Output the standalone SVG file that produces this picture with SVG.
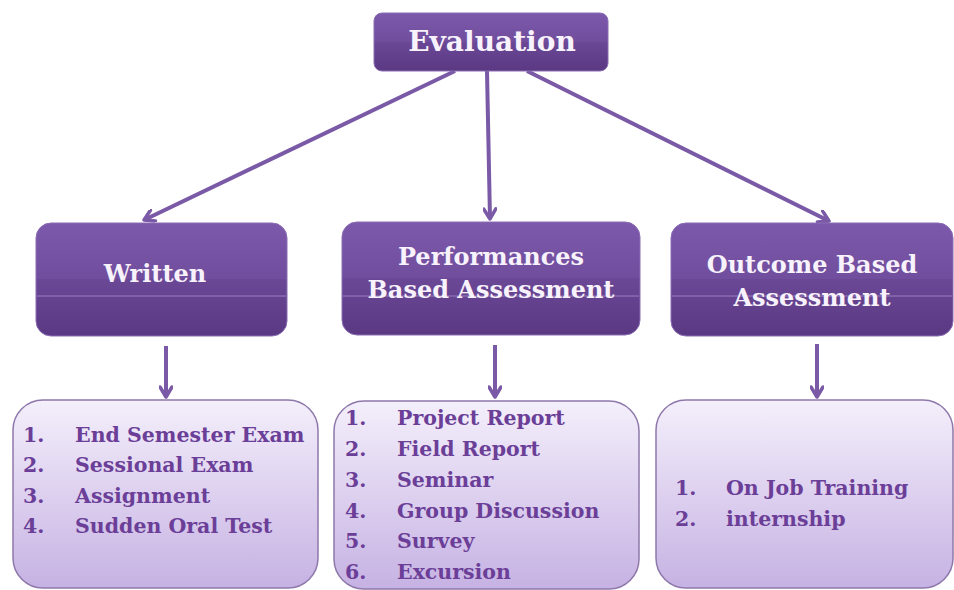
<svg xmlns="http://www.w3.org/2000/svg" width="954" height="590" viewBox="0 0 954 590">
<defs>
<linearGradient id="gTop" x1="0" y1="0" x2="0" y2="1">
<stop offset="0" stop-color="#7d59ab"/>
<stop offset="0.5" stop-color="#704d9d"/>
<stop offset="0.5" stop-color="#6b4896"/>
<stop offset="1" stop-color="#5a3882"/>
</linearGradient>
<linearGradient id="gList" x1="0" y1="0" x2="0" y2="1">
<stop offset="0" stop-color="#f4effb"/>
<stop offset="1" stop-color="#c6b2e3"/>
</linearGradient>
<marker id="arr" viewBox="0 0 14 14" refX="12" refY="7" markerWidth="14" markerHeight="14" markerUnits="userSpaceOnUse" orient="auto">
<path d="M2,1 L12,7 L2,13" fill="none" stroke="#7a59a6" stroke-width="3.5" stroke-linecap="round" stroke-linejoin="round"/>
</marker>
</defs>
<style>
.hdr{fill:url(#gTop);stroke:#8a6cb4;stroke-width:1}
.gl{stroke:#9b80c2;stroke-width:1}
.ht{font-family:"DejaVu Serif","Liberation Serif",serif;font-weight:bold;fill:#f7f2fb;text-anchor:middle;font-size:24px}
.ev{font-size:28px}
.lst{fill:url(#gList);stroke:#8e78ab;stroke-width:1.5}
.lt{font-family:"DejaVu Serif","Liberation Serif",serif;font-weight:bold;fill:#6b3e98;font-size:20.5px}
.con{stroke:#7a59a6;stroke-width:4;fill:none;marker-end:url(#arr)}
</style>
<rect width="954" height="590" fill="#ffffff"/>

<g id="connectors">
<line class="con" x1="455" y1="71" x2="144" y2="220"/>
<line class="con" x1="487" y1="71" x2="490" y2="219"/>
<line class="con" x1="527" y1="71" x2="829" y2="221"/>
<line class="con" x1="166" y1="346" x2="166" y2="397"/>
<line class="con" x1="495" y1="345" x2="495" y2="397"/>
<line class="con" x1="817" y1="344" x2="817" y2="397"/>
</g>

<g id="evaluation">
<rect class="hdr" x="374" y="13" width="234" height="58" rx="8"/>
<text class="ht ev" x="492" y="51">Evaluation</text>
</g>

<g id="written">
<rect class="hdr" x="36" y="223" width="251" height="113" rx="15"/>
<line class="gl" x1="37" y1="296" x2="286" y2="296"/>
<text class="ht" x="155" y="282">Written</text>
</g>

<g id="performance">
<rect class="hdr" x="342" y="222" width="298" height="113" rx="15"/>
<line class="gl" x1="343" y1="296" x2="639" y2="296"/>
<text class="ht" x="491" y="265">Performances</text>
<text class="ht" x="491" y="298">Based Assessment</text>
</g>

<g id="outcome">
<rect class="hdr" x="671" y="223" width="282" height="113" rx="15"/>
<line class="gl" x1="672" y1="296" x2="952" y2="296"/>
<text class="ht" x="812" y="273">Outcome Based</text>
<text class="ht" x="812" y="306">Assessment</text>
</g>

<g id="written-list">
<rect class="lst" x="13" y="400" width="305" height="188" rx="30"/>
<text class="lt" x="23" y="442">1.</text><text class="lt" x="75" y="442">End Semester Exam</text>
<text class="lt" x="23" y="472">2.</text><text class="lt" x="75" y="472">Sessional Exam</text>
<text class="lt" x="23" y="503">3.</text><text class="lt" x="75" y="503">Assignment</text>
<text class="lt" x="23" y="533">4.</text><text class="lt" x="75" y="533">Sudden Oral Test</text>
</g>

<g id="performance-list">
<rect class="lst" x="334" y="401" width="305" height="188" rx="30"/>
<text class="lt" x="345" y="425">1.</text><text class="lt" x="397" y="425">Project Report</text>
<text class="lt" x="345" y="456">2.</text><text class="lt" x="397" y="456">Field Report</text>
<text class="lt" x="345" y="487">3.</text><text class="lt" x="397" y="487">Seminar</text>
<text class="lt" x="345" y="518">4.</text><text class="lt" x="397" y="518">Group Discussion</text>
<text class="lt" x="345" y="548">5.</text><text class="lt" x="397" y="548">Survey</text>
<text class="lt" x="345" y="579">6.</text><text class="lt" x="397" y="579">Excursion</text>
</g>

<g id="outcome-list">
<rect class="lst" x="656" y="400" width="297" height="188" rx="30"/>
<text class="lt" x="675" y="495">1.</text><text class="lt" x="726" y="495">On Job Training</text>
<text class="lt" x="675" y="526">2.</text><text class="lt" x="726" y="526">internship</text>
</g>
</svg>
